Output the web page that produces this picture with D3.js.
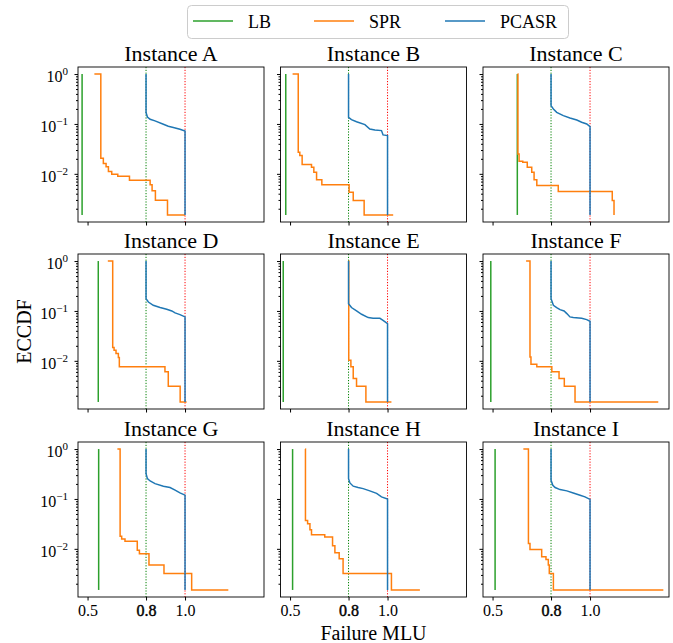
<!DOCTYPE html>
<html>
<head>
<meta charset="utf-8">
<script src="https://cdn.jsdelivr.net/npm/d3@7"></script>
<style>
  body { margin: 0; background: #fff; }
  svg { display: block; }
  svg text { font-family: "Liberation Serif", "Times New Roman", serif; }
</style>
</head>
<body>
<svg id="chart" width="673" height="643"></svg>
<script>
// ---- data ----
const instances = ["A", "B", "C", "D", "E", "F", "G", "H", "I"];
const seriesNames = ["LB", "SPR", "PCASR"];
const seriesColors = ["#2ca02c", "#ff7f0e", "#1f77b4"];

const yMin = 0.0015; // smallest ECCDF level
const xTicks = [0.5, 0.8, 1.0];
const yMajor = [1, 0.1, 0.01];
const yTickExp = ["0", "\u22121", "\u22122"];
const refX = [0.8, 1.0]; // dotted reference lines
const refColors = ["#008000", "#ff0000"];

// lower bound, one vertical line per instance
const lbX = [0.472, 0.478, 0.627, 0.555, 0.465, 0.491, 0.557, 0.513, 0.513];

// SPR step curves (x where each level starts, level)
const sprX = [
  [0.535, 0.568, 0.581, 0.595, 0.607, 0.624, 0.655, 0.715, 0.821, 0.831, 0.848, 0.910, 1.000],
  [0.513, 0.542, 0.550, 0.562, 0.610, 0.622, 0.636, 0.663, 0.803, 0.824, 0.880, 1.029],
  [0.628, 0.630, 0.636, 0.655, 0.678, 0.701, 0.713, 0.727, 0.837, 1.114, 1.123],
  [0.604, 0.629, 0.636, 0.646, 0.658, 0.663, 0.897, 0.914, 0.975, 1.008],
  [0.800, 0.801, 0.812, 0.824, 0.841, 0.889, 1.020],
  [0.672, 0.692, 0.697, 0.727, 0.804, 0.841, 0.868, 0.923, 1.350],
  [0.653, 0.667, 0.675, 0.692, 0.755, 0.766, 0.815, 0.892, 1.034, 1.222],
  [0.578, 0.579, 0.590, 0.602, 0.610, 0.678, 0.718, 0.730, 0.752, 0.772, 1.020, 1.166],
  [0.658, 0.684, 0.692, 0.752, 0.774, 0.786, 0.791, 0.812, 1.376]
];
const sprY = [
  [1, 0.0206, 0.0161, 0.0138, 0.0111, 0.00984, 0.00898, 0.00747, 0.00603, 0.00457, 0.00297, 0.0015, 0.0015],
  [1, 0.0271, 0.0233, 0.0154, 0.0136, 0.0108, 0.00759, 0.00603, 0.0043, 0.00293, 0.0015, 0.0015],
  [1, 0.0251, 0.0179, 0.0171, 0.0136, 0.0108, 0.00759, 0.00585, 0.00443, 0.00293, 0.0015],
  [1, 0.0185, 0.0163, 0.014, 0.0117, 0.00759, 0.00603, 0.00311, 0.0015, 0.0015],
  [1, 0.0103, 0.00759, 0.00443, 0.00311, 0.0015, 0.0015],
  [1, 0.012, 0.00858, 0.00759, 0.00603, 0.00443, 0.00311, 0.0015, 0.0015],
  [1, 0.0178, 0.0158, 0.0142, 0.00941, 0.00796, 0.00475, 0.0032, 0.0015, 0.0015],
  [1, 0.037, 0.0318, 0.0242, 0.0192, 0.0173, 0.0116, 0.00834, 0.00634, 0.0032, 0.0015, 0.0015],
  [1, 0.0128, 0.0097, 0.00695, 0.00615, 0.00475, 0.0032, 0.0015, 0.0015]
];

// PCASR curves (dense steps, drawn as a polyline)
const pcasrX = [
  [0.800, 0.800, 0.807, 0.821, 0.846, 0.889, 0.914, 0.940, 0.974, 1.000, 1.000],
  [0.800, 0.800, 0.815, 0.841, 0.884, 0.909, 0.935, 0.969, 0.977, 1.000, 1.000],
  [0.800, 0.800, 0.812, 0.829, 0.863, 0.897, 0.932, 0.957, 0.983, 1.000, 1.000],
  [0.800, 0.800, 0.812, 0.837, 0.872, 0.906, 0.932, 0.949, 0.974, 1.000, 1.000],
  [0.800, 0.800, 0.815, 0.841, 0.867, 0.901, 0.926, 0.961, 0.977, 1.000, 1.000],
  [0.800, 0.800, 0.812, 0.829, 0.846, 0.867, 0.881, 0.897, 0.914, 0.957, 0.983, 1.000, 1.000],
  [0.800, 0.800, 0.807, 0.821, 0.846, 0.889, 0.923, 0.949, 0.974, 1.000, 1.000],
  [0.800, 0.800, 0.807, 0.824, 0.849, 0.875, 0.909, 0.944, 0.969, 1.000, 1.000],
  [0.800, 0.800, 0.809, 0.821, 0.846, 0.881, 0.914, 0.949, 0.974, 1.000, 1.000]
];
const pcasrY = [
  [1, 0.169, 0.138, 0.124, 0.115, 0.0985, 0.0898, 0.0845, 0.0782, 0.0724, 0.0015],
  [1, 0.136, 0.122, 0.111, 0.097, 0.0794, 0.0759, 0.0736, 0.0603, 0.0585, 0.0015],
  [1, 0.233, 0.2, 0.171, 0.147, 0.132, 0.12, 0.108, 0.1, 0.0885, 0.0015],
  [1, 0.176, 0.151, 0.13, 0.117, 0.108, 0.1, 0.0912, 0.0845, 0.0759, 0.0015],
  [1, 0.14, 0.117, 0.1, 0.0858, 0.0736, 0.0713, 0.0713, 0.065, 0.0558, 0.0015],
  [1, 0.176, 0.13, 0.117, 0.106, 0.1, 0.0885, 0.0759, 0.0736, 0.0713, 0.0671, 0.0621, 0.0015],
  [1, 0.32, 0.255, 0.229, 0.203, 0.18, 0.169, 0.15, 0.132, 0.119, 0.0015],
  [1, 0.255, 0.209, 0.18, 0.169, 0.161, 0.145, 0.129, 0.11, 0.0993, 0.0015],
  [1, 0.236, 0.188, 0.169, 0.154, 0.145, 0.132, 0.119, 0.11, 0.0977, 0.0015]
];

// ---- layout ----
const colLeft = [78, 280.5, 483];
const rowTop = [67, 254, 442];
const pw = 186, ph = 155;

const svg = d3.select("#chart");

// shared scales (sharex / sharey)
const x = d3.scaleLinear().domain([0.451, 1.405]).range([0, pw]);
const y = d3.scaleLog().domain([Math.pow(10, -2.965), Math.pow(10, 0.141)]).range([ph, 0]);

// minor log ticks inside the domain
const yMinor = [];
[0.001, 0.01, 0.1].forEach(d => {
  for (let k = 2; k <= 9; k++) {
    const v = d * k;
    if (v >= y.domain()[0] && v <= y.domain()[1]) yMinor.push(v);
  }
});

const stepLine = d3.line().x(d => x(d[0])).y(d => y(d[1])).curve(d3.curveStepAfter);
const polyLine = d3.line().x(d => x(d[0])).y(d => y(d[1]));

instances.forEach((name, i) => {
  const col = i % 3, row = Math.floor(i / 3);
  const g = svg.append("g").attr("transform", `translate(${colLeft[col]},${rowTop[row]})`);

  // title
  g.append("text")
    .attr("x", pw / 2).attr("y", -6.5)
    .attr("text-anchor", "middle")
    .attr("font-size", 22)
    .text("Instance " + name);

  // dotted reference lines
  refX.forEach((v, k) => {
    g.append("line")
      .attr("x1", x(v)).attr("x2", x(v))
      .attr("y1", 0).attr("y2", ph)
      .attr("stroke", refColors[k])
      .attr("stroke-width", 1)
      .attr("stroke-dasharray", "1.2,1.6");
  });

  // LB
  g.append("path")
    .datum([[lbX[i], 1], [lbX[i], yMin]])
    .attr("d", polyLine)
    .attr("fill", "none")
    .attr("stroke", seriesColors[0])
    .attr("stroke-width", 1.5);

  // SPR
  g.append("path")
    .datum(sprX[i].map((v, k) => [v, sprY[i][k]]))
    .attr("d", stepLine)
    .attr("fill", "none")
    .attr("stroke", seriesColors[1])
    .attr("stroke-width", 1.5);

  // PCASR
  g.append("path")
    .datum(pcasrX[i].map((v, k) => [v, pcasrY[i][k]]))
    .attr("d", polyLine)
    .attr("fill", "none")
    .attr("stroke", seriesColors[2])
    .attr("stroke-width", 1.5);

  // axes
  const xAxis = g.append("g")
    .attr("transform", `translate(0,${ph})`)
    .call(d3.axisBottom(x).tickValues(xTicks).tickSize(3.5).tickPadding(4)
      .tickFormat(row === 2 ? d3.format(".1f") : () => ""));
  xAxis.attr("font-family", null).attr("font-size", null);
  xAxis.select(".domain").remove();
  xAxis.selectAll("text").attr("font-size", 16).attr("fill", "#000");
  // the 0.8 label looks darker in the reference (drawn twice)
  xAxis.selectAll(".tick").filter(d => d === 0.8).select("text")
    .attr("stroke", "#000").attr("stroke-width", 0.45);

  const yMinorAxis = g.append("g")
    .call(d3.axisLeft(y).tickValues(yMinor).tickSize(2).tickFormat(() => ""));
  yMinorAxis.select(".domain").remove();

  const yAxis = g.append("g")
    .call(d3.axisLeft(y).tickValues(yMajor).tickSize(3.5).tickFormat(() => ""));
  yAxis.attr("font-family", null).attr("font-size", null);
  yAxis.select(".domain").remove();
  if (col === 0) {
    yAxis.selectAll(".tick").each(function (d, k) {
      const t = d3.select(this).append("text")
        .attr("x", -10).attr("y", 7.5)
        .attr("text-anchor", "end")
        .attr("fill", "#000")
        .attr("font-size", 16);
      t.append("tspan").text("10");
      t.append("tspan").attr("dy", -7).attr("font-size", 11).text(yTickExp[k]);
    });
  }
  svg.selectAll(".tick line").attr("stroke", "#000");

  // frame
  g.append("rect")
    .attr("x", 0).attr("y", 0).attr("width", pw).attr("height", ph)
    .attr("fill", "none").attr("stroke", "#000").attr("stroke-width", 0.9);
});

// axis labels
svg.append("text")
  .attr("x", colLeft[1] + pw / 2).attr("y", 640)
  .attr("text-anchor", "middle")
  .attr("font-size", 20)
  .text("Failure MLU");

svg.append("text")
  .attr("transform", `translate(31,${rowTop[1] + ph / 2}) rotate(-90)`)
  .attr("text-anchor", "middle")
  .attr("font-size", 20)
  .text("ECCDF");

// legend
const legend = svg.append("g");
legend.append("rect")
  .attr("x", 187.5).attr("y", 5.5).attr("width", 381).attr("height", 33).attr("rx", 4)
  .attr("fill", "#fff").attr("stroke", "#cccccc").attr("stroke-width", 1);
const legendX = [193, 314, 445];
seriesNames.forEach((s, k) => {
  legend.append("line")
    .attr("x1", legendX[k]).attr("x2", legendX[k] + 40)
    .attr("y1", 21).attr("y2", 21)
    .attr("stroke", seriesColors[k]).attr("stroke-width", 1.5);
  legend.append("text")
    .attr("x", legendX[k] + 55).attr("y", 27.5)
    .attr("font-size", 18)
    .text(s);
});
</script>
</body>
</html>
